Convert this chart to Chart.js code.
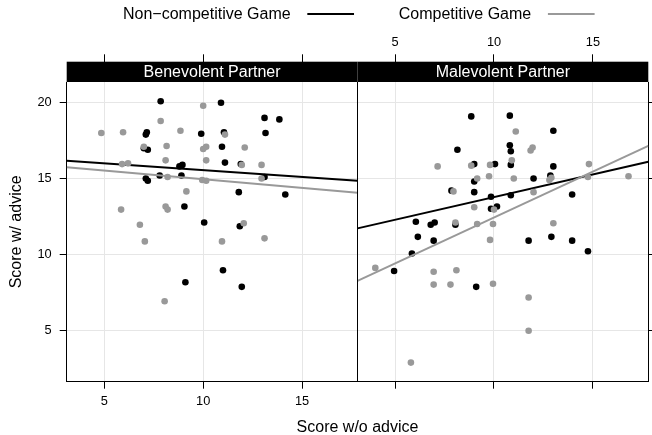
<!DOCTYPE html>
<html>
<head>
<meta charset="utf-8">
<script src="https://cdn.jsdelivr.net/npm/chart.js@4.4.1/dist/chart.umd.min.js"></script>
<style>
  html, body { margin: 0; padding: 0; background: #fff; }
  #wrap { width: 652px; height: 435px; }
</style>
</head>
<body>
<div id="wrap"><canvas id="chart" width="652" height="435"></canvas></div>
<script>
// panels and groups
const panels = ["Benevolent Partner", "Malevolent Partner"];
const games = ["Non\u2212competitive Game", "Competitive Game"];
const gameColors = ["#000000", "#999999"];

// axis ticks and limits
const xTicks = [5, 10, 15];
const yTicks = [5, 10, 15, 20];
const xMin = 3.1, xMax = 17.8;
const yMin = 1.59, yMax = 21.37;

// [score w/o advice, score w/ advice]
const benevolentNonCompetitive = [
  [7.85, 20.1], [10.9, 20.0], [7.15, 18.05], [7.1, 17.9], [9.9, 17.95], [11.05, 18.05],
  [13.1, 19.0], [13.85, 18.9], [13.15, 18.0], [7.0, 17.0], [7.2, 16.9], [10.95, 17.1],
  [8.95, 15.9], [8.8, 15.8], [11.1, 16.05], [11.9, 15.95], [7.8, 15.2], [8.9, 15.2],
  [7.1, 15.0], [7.2, 14.85], [13.1, 15.1], [11.8, 14.1], [14.15, 13.95], [9.05, 13.15],
  [10.05, 12.1], [11.85, 11.85], [11.0, 8.95], [9.1, 8.15], [11.95, 7.85]
];
const benevolentCompetitive = [
  [10.0, 19.8], [7.85, 18.8], [4.85, 18.0], [5.95, 18.05], [8.85, 18.15], [11.1, 17.9],
  [7.0, 17.1], [8.15, 17.15], [10.0, 16.95], [10.15, 17.1], [12.1, 17.05], [8.1, 16.2],
  [10.15, 16.2], [5.9, 15.95], [6.2, 16.0], [11.95, 15.9], [12.95, 15.9], [8.2, 15.1],
  [9.95, 14.9], [10.15, 14.85], [12.95, 15.0], [9.15, 14.15], [5.85, 12.95], [8.1, 13.15],
  [8.2, 12.95], [6.8, 11.95], [12.05, 12.05], [7.05, 10.85], [10.95, 10.85], [13.1, 11.05],
  [8.05, 6.9]
];
const malevolentNonCompetitive = [
  [8.85, 19.1], [10.8, 19.15], [8.15, 16.9], [13.0, 18.15], [10.8, 17.2], [10.85, 16.8],
  [9.0, 15.95], [10.05, 15.95], [10.85, 15.9], [13.0, 15.8], [9.0, 14.8], [12.85, 15.2],
  [12.0, 15.0], [7.85, 14.2], [9.0, 14.1], [9.85, 13.8], [10.85, 13.9], [13.95, 13.95],
  [9.85, 13.0], [10.15, 13.15], [6.05, 12.15], [6.8, 11.95], [7.0, 12.1], [8.05, 11.95],
  [6.15, 11.15], [6.95, 10.9], [11.75, 10.9], [12.9, 11.15], [13.95, 10.9], [14.75, 10.2],
  [5.85, 10.05], [4.95, 8.9], [9.1, 7.85]
];
const malevolentCompetitive = [
  [7.15, 15.8], [8.85, 15.85], [9.8, 15.9], [9.15, 15.0], [9.75, 15.15], [7.95, 14.15],
  [9.0, 13.1], [10.0, 12.95], [8.05, 12.1], [9.15, 12.0], [9.95, 12.0], [11.1, 18.1],
  [11.85, 16.85], [11.95, 17.05], [10.9, 16.2], [14.8, 15.95], [11.0, 15.0], [12.9, 15.05],
  [12.8, 14.9], [14.75, 15.1], [16.8, 15.15], [12.0, 14.1], [13.0, 12.05], [9.8, 10.95],
  [4.0, 9.1], [6.95, 8.85], [8.1, 8.95], [6.95, 8.0], [7.8, 8.0], [9.95, 8.05],
  [11.75, 7.15], [11.75, 4.95], [5.8, 2.85]
];

// fitted lines, read at the panel edges
const benevolentNonCompetitiveFit = [[3.1, 16.17], [17.8, 14.85]];
const benevolentCompetitiveFit = [[3.1, 15.74], [17.8, 14.06]];
const malevolentNonCompetitiveFit = [[3.1, 11.71], [17.8, 16.11]];
const malevolentCompetitiveFit = [[3.1, 8.25], [17.8, 17.16]];

const FONT = '"Liberation Sans", Arial, Helvetica, sans-serif';
Chart.defaults.font.family = FONT;
Chart.defaults.color = "#000";

const toXY = (arr) => arr.map(([x, y]) => ({ x, y }));

function pointSet(label, arr, g, xAxisID) {
  return {
    label, data: toXY(arr), xAxisID, yAxisID: "y",
    backgroundColor: gameColors[g], borderWidth: 0,
    pointRadius: 3.3, pointHoverRadius: 3.3,
    order: g === 0 ? 3 : 1,
  };
}
function fitSet(label, arr, g, xAxisID) {
  return {
    label, data: toXY(arr), xAxisID, yAxisID: "y",
    showLine: true, borderColor: gameColors[g], borderWidth: 2,
    pointRadius: 0, tension: 0, fill: false,
    order: g === 0 ? 2 : 0,
  };
}

const setTicks = (list) => (scale) => { scale.ticks = list.map((v) => ({ value: v })); };

function xScale(position, stack, showLabels, height, tickLength, onChart) {
  return {
    type: "linear", position, stack, min: xMin, max: xMax,
    afterBuildTicks: setTicks(xTicks),
    afterFit: (s) => { s.height = height; },
    ticks: { display: showLabels, padding: position === "top" ? 4 : 5, maxRotation: 0, font: { size: 12.8 } },
    grid: { color: "#e6e6e6", tickColor: "#000", tickLength, drawOnChartArea: onChart },
    border: { display: position === "bottom", color: "#000" },
  };
}

// strips, panel divider and the legend on top
const latticeDecor = {
  id: "latticeDecor",
  afterDraw(chart) {
    const { ctx, chartArea } = chart;
    const stripH = 20.3;
    ctx.save();
    ctx.font = "16px " + FONT;
    ctx.textAlign = "center";
    ctx.textBaseline = "middle";
    ["xL", "xR"].forEach((id, i) => {
      const s = chart.scales[id];
      ctx.fillStyle = "#000";
      ctx.fillRect(s.left, chartArea.top - stripH, s.right - s.left, stripH);
      ctx.fillStyle = "#fff";
      ctx.fillText(panels[i], (s.left + s.right) / 2, chartArea.top - stripH / 2 + 0.5);
    });

    const mid = chart.scales.xL.right;
    ctx.strokeStyle = "#000";
    ctx.lineWidth = 1;
    ctx.beginPath();
    ctx.moveTo(mid, chartArea.top);
    ctx.lineTo(mid, chartArea.bottom);
    ctx.stroke();

    // legend: text followed by a line sample
    const gap = 16.7, lineLen = 46.7, itemGap = 44.7;
    const widths = games.map((t) => ctx.measureText(t).width);
    const total = widths[0] + widths[1] + 2 * (gap + lineLen) + itemGap;
    let x = (chartArea.left + chartArea.right) / 2 + 1.3 - total / 2;
    ctx.textAlign = "left";
    games.forEach((t, i) => {
      ctx.fillStyle = "#000";
      ctx.fillText(t, x, 15);
      x += widths[i] + gap;
      ctx.strokeStyle = gameColors[i];
      ctx.lineWidth = 2;
      ctx.beginPath();
      ctx.moveTo(x, 14);
      ctx.lineTo(x + lineLen, 14);
      ctx.stroke();
      x += lineLen + itemGap;
    });
    ctx.restore();
  },
};

new Chart(document.getElementById("chart"), {
  type: "scatter",
  data: {
    datasets: [
      pointSet("Benevolent, non-competitive", benevolentNonCompetitive, 0, "xL"),
      fitSet("Benevolent, non-competitive fit", benevolentNonCompetitiveFit, 0, "xL"),
      pointSet("Benevolent, competitive", benevolentCompetitive, 1, "xL"),
      fitSet("Benevolent, competitive fit", benevolentCompetitiveFit, 1, "xL"),
      pointSet("Malevolent, non-competitive", malevolentNonCompetitive, 0, "xR"),
      fitSet("Malevolent, non-competitive fit", malevolentNonCompetitiveFit, 0, "xR"),
      pointSet("Malevolent, competitive", malevolentCompetitive, 1, "xR"),
      fitSet("Malevolent, competitive fit", malevolentCompetitiveFit, 1, "xR"),
    ],
  },
  options: {
    responsive: false,
    animation: false,
    events: [],
    devicePixelRatio: 1,
    layout: { padding: 0 },
    plugins: {
      legend: { display: false },
      tooltip: { enabled: false },
      title: {
        display: true, position: "bottom", fullSize: false,
        text: "Score w/o advice", color: "#000",
        font: { size: 16, weight: "normal", lineHeight: "14px" },
        padding: 0,
      },
    },
    scales: {
      xL: xScale("bottom", "bottom", true, 39.3, 7, true),
      xR: xScale("bottom", "bottom", false, 39.3, 7, true),
      xTopR: xScale("top", "top", true, 82, 27.7, false),
      xTopL: xScale("top", "top", false, 82, 27.7, false),
      y: {
        position: "left", min: yMin, max: yMax,
        afterBuildTicks: setTicks(yTicks),
        afterFit: (s) => { s.width = 66.7; },
        ticks: { padding: 8, font: { size: 12.8 } },
        grid: { color: "#e6e6e6", tickColor: "#000", tickLength: 7 },
        border: { color: "#000" },
        title: {
          display: true, text: "Score w/ advice", color: "#000",
          font: { size: 16 }, padding: { top: 7, bottom: 0 },
        },
      },
      yR: {
        position: "right", min: yMin, max: yMax,
        afterBuildTicks: setTicks(yTicks),
        afterFit: (s) => { s.width = 3.7; },
        ticks: { display: false },
        grid: { tickColor: "#000", tickLength: 7, drawOnChartArea: false },
        border: { color: "#000" },
      },
    },
  },
  plugins: [latticeDecor],
});
</script>
</body>
</html>
